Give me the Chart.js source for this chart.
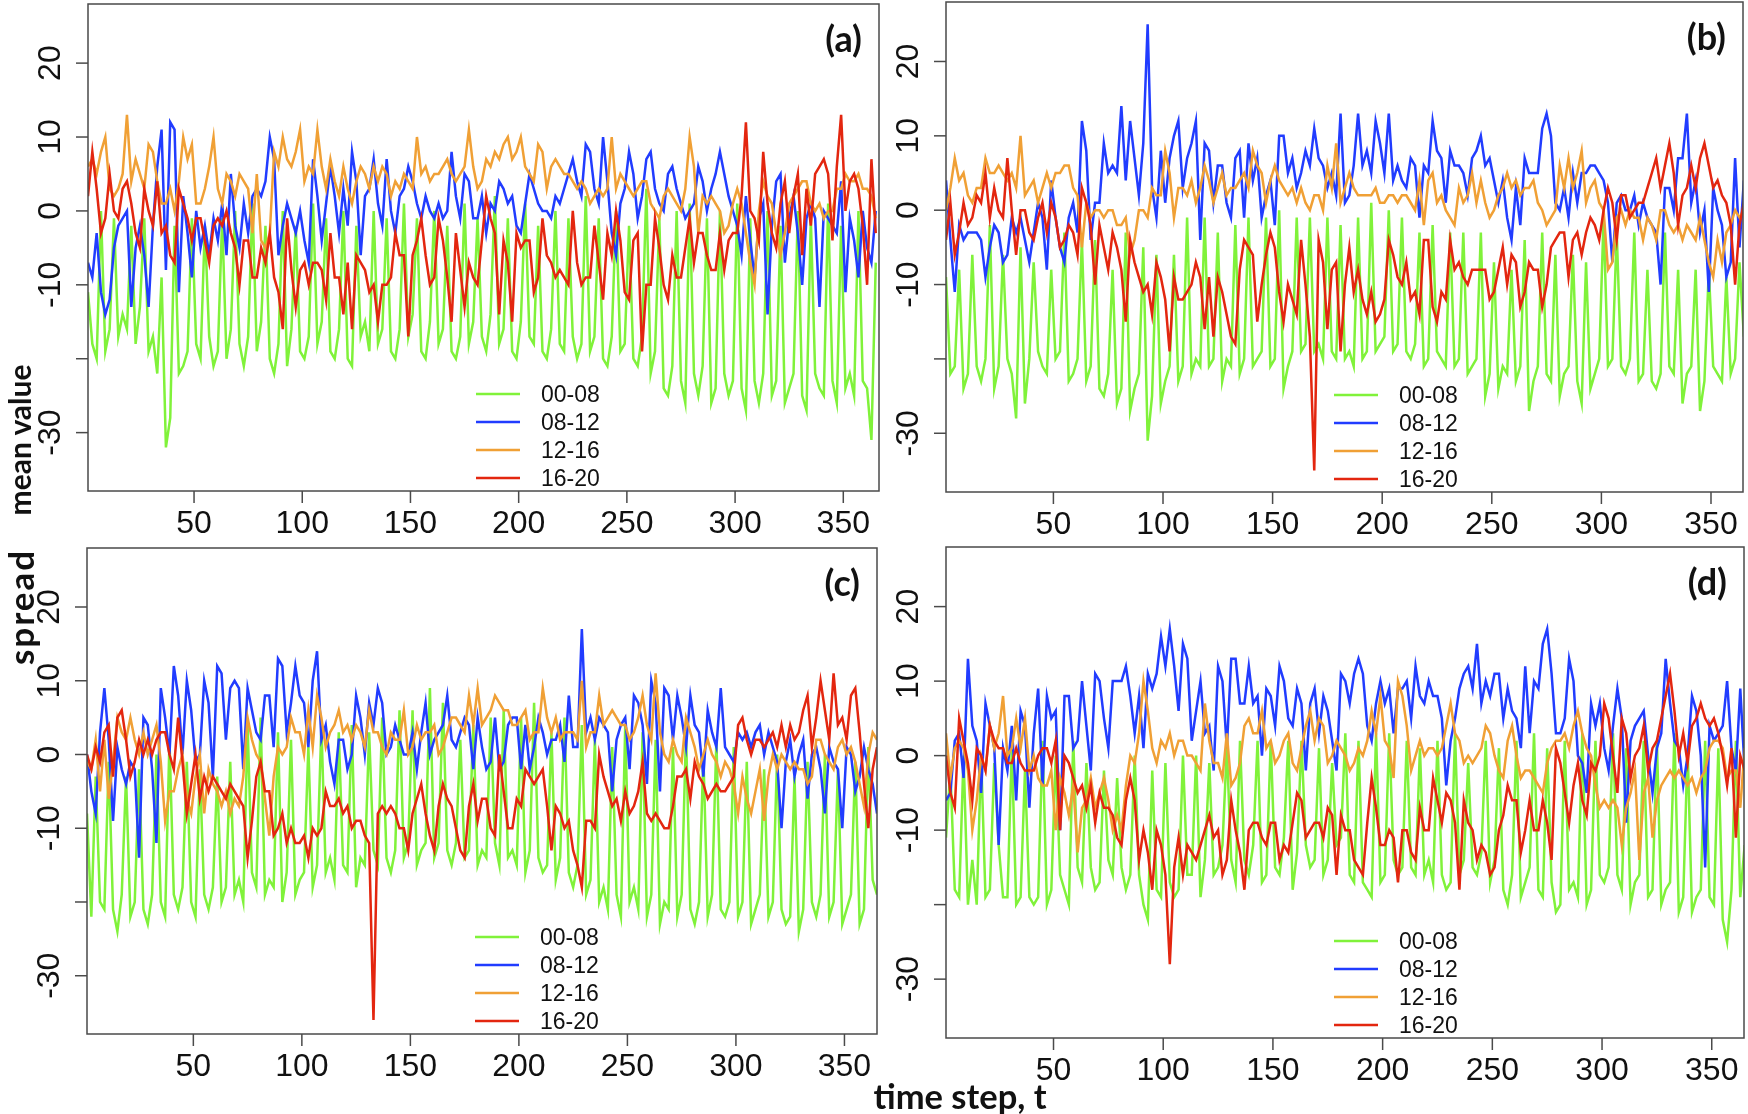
<!DOCTYPE html>
<html>
<head>
<meta charset="utf-8">
<script src="https://cdn.jsdelivr.net/npm/chart.js@4.4.0/dist/chart.umd.min.js"></script>
<style>
  html, body { margin: 0; padding: 0; background: #fff; }
  #wrap { position: relative; width: 1748px; height: 1114px; overflow: hidden; }
  canvas { position: absolute; }
  .ttl { position: absolute; font-family: Lato, "Open Sans", sans-serif; font-weight: 700; color: #111;
         white-space: nowrap; line-height: 1; }
</style>
</head>
<body>
<div id="wrap">
  <canvas id="pa" width="884" height="545" style="left:0;top:0"></canvas>
  <canvas id="pb" width="864" height="545" style="left:884px;top:0"></canvas>
  <canvas id="pc" width="884" height="569" style="left:0;top:545px"></canvas>
  <canvas id="pd" width="864" height="569" style="left:884px;top:545px"></canvas>
  <div class="ttl" style="left:960px;top:1096px;font-size:34.5px;transform:translate(-50%,-50%)">time step, t</div>
  <div class="ttl" style="left:19px;top:440px;font-size:30px;transform:translate(-50%,-50%) rotate(-90deg)">mean value</div>
  <div class="ttl" style="left:20px;top:607px;font-size:35px;letter-spacing:2px;transform:translate(-50%,-50%) rotate(-90deg)">spread</div>
</div>
<script>
// time steps sampled every second day
const steps = [];
for (let t = 1; t <= 365; t += 2) steps.push(t);

const seriesLabels = ['00-08', '08-12', '12-16', '16-20'];
const seriesColors = ['#80f23a', '#213cff', '#f0a035', '#e3260f'];
const xTicks = [50, 100, 150, 200, 250, 300, 350];
const yTicks = [20, 10, 0, -10, -20, -30];
const yTickLabels = ['20', '10', '0', '-10', '', '-30'];
const yMin = -37.9, yMax = 28.0;

// ---- panel (a)
const aGreen = [
  -11, -18, -20, 0, -19, -16, -1, -17, -14, -16,
  -2, -18, -13, -1, -19, -17, -22, -9, -32, -28,
  -2, -22, -21, -19, -1, -18, -20, -2, -17, -21,
  -19, -1, -20, -16, 0, -18, -21, -17, 1, -19,
  -15, -2, -20, -22, -18, 0, -21, -16, -2, -19,
  -20, -17, 1, -18, -15, -1, -19, -20, -16, 0,
  -20, -21, -2, -17, -15, -19, 0, -18, -16, -1,
  -19, -20, -16, 1, -17, -14, -1, -19, -20, -15,
  0, -18, -16, -2, -19, -20, -17, 1, -18, -15,
  -1, -17, -19, -14, 2, -18, -16, -1, -19, -20,
  -15, 1, -17, -18, -2, -19, -20, -16, 0, -18,
  -19, -1, -17, -20, -18, 2, -19, -17, -1, -20,
  -21, -17, 0, -19, -18, -2, -20, -21, -17, 3,
  -22, -19, -1, -24, -25, -21, 0, -23, -26, 1,
  -22, -25, -21, -1, -26, -24, 0, -22, -25, -23,
  1, -24, -27, -1, -23, -26, -22, 0, -25, -23,
  -2, -26, -24, -22, 0, -25, -27, -1, -22, -24,
  -25, 1, -23, -26, -2, -24, -22, -25, 0, -23,
  -24, -31, -7
];
const aBlue = [
  -7, -9, -3, -11, -14, -12, -5, -2, -1, 0,
  -13, -5, -2, -6, -13, -2, 6, 11, -8, 12,
  11, -11, 2, -3, -9, 0, -5, -2, -6, -1,
  -4, 1, -6, 5, -2, -5, 1, -3, 2, 3,
  2, 4, 10, 7, -6, -2, 1, -1, -3, 0,
  -4, -7, 7, 2, -4, 1, 6, 2, -3, 3,
  -2, 8, 4, -6, 2, 3, 7, 1, -2, 7,
  0, -3, 2, 3, 6, 4, 1, -1, 2, 0,
  -1, 1, -1, 0, 8, 2, -1, 5, 4, -1,
  -1, 2, -3, 1, 0, 4, 3, 1, 2, -2,
  -3, 1, 5, 3, 1, 0, 0, -1, 2, 1,
  3, 5, 7, 4, 2, 9, 8, 3, 1, 10,
  4, -3, -6, 1, 3, 8, 5, -1, 2, 7,
  8, 3, 1, 0, 5, 6, 3, 1, -1, 0,
  1, 6, 4, 0, 3, 5, 8, 5, 2, 0,
  -2, -6, 2, -4, -9, -1, 1, -14, -2, 4,
  5, -7, -1, 2, -3, -10, -1, 1, -1, -13,
  0, -1, -2, -3, 4, -11, -1, -4, -9, 0,
  -5, -7, 0
];
const aOrange = [
  6, 7, 5, 8, 10, 3, 2, 3, 5, 13,
  4, 7, 5, 3, 9, 8, 4, 1, 1, 3,
  0, 4, 10, 7, 9, 1, 1, 3, 6, 10,
  3, 1, 5, 4, 2, 5, 4, 3, -3, 5,
  -4, -5, -3, 8, 6, 10, 7, 6, 8, 11,
  4, 6, 5, 11, 6, 3, 7, 4, 2, 6,
  3, 1, 4, 6, 5, 3, 6, 4, 6, 5,
  2, 4, 3, 5, 4, 3, 10, 5, 6, 4,
  5, 5, 6, 7, 5, 4, 5, 6, 11, 6,
  3, 4, 7, 6, 8, 7, 9, 10, 7, 8,
  10, 6, 5, 4, 9, 8, 3, 6, 7, 6,
  5, 5, 4, 3, 4, 3, 1, 2, 3, 2,
  3, 10, 3, 5, 4, 3, 2, 3, 4, 4,
  1, 0, -1, 2, 3, 2, 1, 0, 3, 10,
  6, -3, 2, 1, 2, 1, 0, -3, -2, 1,
  3, 1, -3, -7, -10, 0, 4, 2, 1, -3,
  -6, -3, 1, 2, 3, 4, 4, 1, 0, 1,
  -1, 0, 0, 3, 3, 5, 4, 4, 5, 3,
  3, 2, -1
];
const aRed = [
  2, 8, 3, -3, -1, 5, 0, -1, 3, 4,
  1, -3, -5, 3, 0, -2, 4, -3, -2, -6,
  -7, 3, 1, -1, -4, -1, -1, -4, -7, -2,
  -1, -2, 0, -3, -5, -10, -4, -4, -9, -9,
  -5, -7, -3, -9, -11, -16, -1, -8, -13, -8,
  -7, -10, -7, -7, -8, -12, -3, -9, -9, -14,
  -7, -16, -6, -7, -8, -11, -10, -15, -10, -10,
  -9, -3, -6, -6, -17, -6, -4, -1, -6, -10,
  -9, -1, -4, -9, -15, -3, -8, -13, -7, -9,
  -10, -4, 2, -1, -3, -14, -4, -7, -15, -3,
  -5, -4, -4, -11, -9, -1, -6, -7, -9, -8,
  -9, -10, 0, -7, -10, -9, -9, -2, -7, -12,
  -3, -6, 0, -4, -11, -12, -4, -3, -19, -10,
  -10, -1, -5, -10, -12, -6, -9, -9, -5, -1,
  -7, -3, -3, -6, -8, -8, -3, -8, -4, -3,
  -3, 2, 12, 0, -1, -4, 8, 1, -3, -5,
  1, 4, -3, 2, 5, -6, 3, -2, 5, 6,
  7, 5, -4, 6, 13, 0, 4, 5, 3, -2,
  -10, 7, -3
];

// ---- panel (b)
const bGreen = [
  -9, -22, -21, -8, -24, -22, -6, -21, -23, -20,
  -2, -24, -21, -6, -20, -22, -28, -5, -26, -20,
  -7, -19, -21, -22, -8, -20, -19, -3, -23, -22,
  -20, -4, -23, -21, -4, -24, -25, -22, -8, -26,
  -24, -3, -27, -24, -22, -5, -31, -25, -6, -26,
  -23, -21, -6, -23, -21, -1, -22, -20, -21, -1,
  -21, -20, -3, -23, -20, -21, -2, -22, -20, -1,
  -21, -20, -19, -1, -21, -20, 0, -24, -21, -19,
  -1, -19, -18, -1, -19, -18, -20, -1, -19, -20,
  -2, -20, -19, -21, -1, -20, -19, 1, -19, -18,
  -17, 0, -19, -18, -1, -19, -20, -18, -3, -21,
  -20, -2, -19, -20, -21, -3, -21, -20, -3, -22,
  -21, -20, -3, -25, -22, -7, -24, -21, -22, -8,
  -23, -21, -4, -27, -23, -21, -3, -22, -23, -6,
  -25, -22, -21, -6, -23, -26, -7, -24, -22, -20,
  -1, -21, -20, -3, -21, -22, -20, -3, -23, -22,
  -8, -23, -24, -22, -3, -21, -22, -8, -26, -22,
  -21, -8, -27, -23, -8, -21, -22, -23, -9, -22,
  -20, -7, -17
];
const bBlue = [
  4, -4, -11, -2, -4, -3, -3, -3, -4, -9,
  -5, -2, -3, -7, -6, -1, -3, -1, -4, -7,
  -3, 1, -1, -8, 4, -1, -5, -7, -1, 1,
  -3, 12, 8, -4, 1, 1, 9, 5, 6, 5,
  14, 4, 12, 7, 2, 9, 25, 3, -1, 8,
  1, 7, 10, 12, 3, 7, 9, 12, -4, 9,
  8, 1, 6, 6, 1, -1, 7, 8, -1, 9,
  4, 7, -1, 2, 4, -2, 10, 10, 5, 7,
  3, 5, 8, 6, 11, 7, 6, 3, 5, 2,
  13, 1, 2, 6, 13, 6, 8, 5, 12, 9,
  5, 13, 4, 6, 4, 3, 7, 6, -1, 6,
  5, 12, 8, 7, 1, 8, 6, 6, 5, 2,
  7, 8, 10, 6, 7, 4, 1, 4, -1, -4,
  3, -2, 7, 5, 5, 5, 11, 13, 10, 1,
  0, 3, -1, 5, 1, 5, 5, 6, 6, 5,
  4, 1, -7, 1, 2, 0, 0, 2, -2, 1,
  -1, -2, -3, -10, 3, 3, 0, 7, 7, 13,
  1, 4, -3, 0, -11, 3, 0, -2, -9, -7,
  7, -5, 4
];
const bOrange = [
  0, 3, 7, 4, 5, 2, 1, 3, 3, 7,
  5, 5, 6, 5, 4, 5, 3, 10, 2, 3,
  4, 1, 3, 5, 3, 5, 5, 6, 6, 3,
  2, -5, 1, -1, 0, 0, -1, 0, 0, -2,
  -2, -1, -6, -4, 0, 0, -1, 3, 2, 2,
  8, 5, -1, 3, 3, 2, 4, 1, 3, 6,
  4, 1, 3, 5, 2, 3, 3, 4, 5, 3,
  8, 6, 5, 1, 4, 6, 4, 3, 2, 3,
  1, 3, 1, 0, 2, 2, 0, 6, 3, 9,
  1, 3, 5, 3, 2, 2, 2, 2, 3, 1,
  1, 2, 2, 1, 2, 2, 1, 0, 4, -2,
  4, 5, 1, 2, 0, -1, -2, 3, 1, 2,
  5, 1, 4, 1, -1, 0, 2, 3, 5, 3,
  4, 2, 3, 3, 4, 1, 0, -2, -1, 0,
  6, 3, 7, 3, 5, 8, 1, 3, 4, 1,
  0, -8, -7, -1, 0, -2, 0, -1, -1, -4,
  -1, -2, -4, 0, 0, -2, -3, -2, -4, -2,
  -3, -4, -1, -4, -7, -9, -4, -7, -3, -2,
  0, -1, 0
];
const bRed = [
  -4, 1, -6, -3, 1, -2, -1, 2, 1, 5,
  -1, 3, 0, -1, 7, 0, -6, 0, 0, -3,
  -4, -1, 1, -3, 1, -1, -5, -4, -2, -3,
  -6, 3, 1, -2, -10, -2, -5, -8, -3, -5,
  -8, -15, -4, -7, -9, -11, -10, -14, -7, -9,
  -12, -19, -9, -12, -12, -11, -10, -7, -9, -16,
  -9, -17, -9, -11, -14, -17, -18, -8, -4, -5,
  -6, -15, -10, -6, -3, -5, -11, -15, -10, -12,
  -14, -4, -10, -17, -35, -4, -7, -16, -8, -7,
  -19, -10, -5, -11, -8, -12, -14, -11, -15, -14,
  -12, -4, -6, -9, -10, -7, -12, -11, -14, -4,
  -4, -13, -15, -11, -12, -4, -8, -7, -9, -10,
  -8, -8, -8, -8, -12, -11, -8, -5, -10, -6,
  -7, -13, -11, -7, -8, -8, -13, -10, -5, -4,
  -3, -3, -9, -4, -3, -6, -3, -1, -2, -4,
  0, 3, 1, -4, 2, 2, -1, 0, 1, 1,
  3, 5, 7, 3, 6, 9, 5, -2, 2, 3,
  6, 3, 7, 9, 6, 3, 4, 2, 1, -2,
  -10, -2, 1
];

// ---- panel (c)
const cGreen = [
  -8, -22, -3, -20, -21, -1, -21, -24, -19, -3,
  -22, -20, -2, -21, -23, -19, 0, -20, -22, 2,
  -19, -21, -18, -1, -20, -22, -2, -19, -21, -18,
  -3, -20, -18, -1, -19, -17, -20, 4, -16, -18,
  5, -19, -17, -18, 3, -20, -16, 2, -19, -17,
  -16, 1, -18, -15, 4, -16, -14, -17, 3, -15,
  -16, 4, -18, -14, -15, 3, -13, -15, 5, -14,
  -16, -13, 6, -14, -12, 6, -15, -13, -12, 9,
  -14, -12, 7, -13, -15, -12, 2, -14, -13, 4,
  -15, -13, -14, 5, -12, -15, 6, -14, -13, -15,
  5, -16, -13, 7, -14, -16, -15, 3, -17, -14,
  5, -16, -18, -15, 4, -19, -17, 2, -20, -18,
  -21, 1, -19, -22, 4, -20, -18, -21, 3, -22,
  -19, 2, -23, -20, -21, 1, -22, -19, 3, -21,
  -23, -20, 0, -22, -19, 2, -21, -22, -20, 1,
  -22, -20, -1, -23, -21, -19, -2, -22, -20, 0,
  -21, -23, -22, -3, -24, -21, -1, -20, -22, -19,
  0, -22, -20, -2, -23, -21, -19, -1, -23, -21,
  1, -17, -19
];
const cBlue = [
  0, -5, -8, 3, 9, 2, -9, 1, -2, -4,
  -1, -2, -14, 5, 4, -2, -12, 9, 5, 0,
  12, 8, 0, 10, 6, -1, 0, 10, 7, -3,
  12, 11, 2, 9, 10, 9, -2, 9, 6, 3,
  2, 8, 8, 1, 13, 12, 3, 7, 12, 8,
  7, 1, 10, 14, 2, 4, -1, -4, 2, 2,
  -2, 0, 8, 5, 0, 7, 4, 9, 7, 0,
  1, 4, 2, 0, 0, 3, -2, 3, 7, 0,
  2, 3, 4, 8, 2, 1, 3, 5, 4, -2,
  5, 1, -2, -1, 5, -2, -1, 4, 5, 5,
  -2, 4, -2, 1, 5, 3, 0, 2, 2, 4,
  -1, 8, 1, 1, 17, 3, 5, 2, 5, 4,
  3, -5, 2, 4, 5, -2, 8, 7, 4, -4,
  10, 7, -5, 9, 8, 2, 8, 5, 1, 8,
  4, 3, -3, 6, 3, 1, 9, 1, 0, -1,
  3, 2, 3, 1, 3, 4, 0, 3, 1, -1,
  -10, -1, 2, -3, 0, 2, -6, 0, 1, -2,
  -8, 1, -1, -2, -10, 1, 0, -5, -3, 1,
  -2, -4, -8
];
const cOrange = [
  -1, -2, 2, -5, 2, -6, -1, 5, 3, 2,
  5, 2, 0, 3, 0, 2, 4, -1, -9, -5,
  -5, -2, 0, -6, -8, -3, 0, -8, -2, -4,
  -5, -7, -5, -8, -6, -7, -3, 5, 2, 0,
  -1, -6, -11, -3, 1, 0, 1, 5, 3, 3,
  0, 6, 1, 8, 5, 1, 3, 4, 6, 3,
  4, 2, 4, 3, 1, 6, 3, 3, 1, 0,
  3, 2, 2, 6, 0, 1, 4, 2, 3, 3,
  4, 0, 1, 3, 5, 5, 4, 3, 8, 4,
  9, 4, 5, 6, 8, 7, 6, 6, 4, 4,
  5, 6, 2, 3, 3, 9, 5, 3, 5, 2,
  3, 3, 3, 2, 10, 1, 3, 3, 8, 4,
  5, 6, 5, 4, 4, 2, 3, 5, 8, 4,
  2, 11, 3, 0, -1, 2, 0, -1, 5, 3,
  1, -2, 0, 2, 0, -1, -3, -1, -2, -4,
  -8, -3, -6, -8, -5, -2, -9, -3, 0, -2,
  0, -1, -2, -1, -2, -2, -4, -3, 2, 2,
  0, -1, -2, 1, 2, 0, 1, -1, -4, -7,
  0, 3, 2
];
const cRed = [
  0, -2, 1, -1, 3, 4, -3, 5, 6, 2,
  -3, -1, 2, 0, 2, 0, 2, 3, 3, 0,
  -2, 5, -1, -8, -4, 0, -6, -3, -5, -3,
  -4, -5, -6, -4, -5, -6, -7, -14, -9, -3,
  -1, -5, -5, -11, -10, -8, -12, -10, -12, -12,
  -11, -14, -10, -11, -10, -5, -7, -7, -6, -8,
  -7, -10, -9, -9, -11, -12, -36, -8, -7, -8,
  -7, -8, -10, -10, -13, -8, -6, -4, -8, -11,
  -13, -7, -4, -6, -7, -10, -13, -14, -7, -4,
  -9, -6, -6, -10, -11, 0, -5, -10, -10, -6,
  -7, -2, -3, -4, -3, -2, -7, -13, -7, -8,
  -10, -9, -13, -15, -18, -9, -9, -10, 0, -3,
  -5, -7, -6, -9, -5, -8, -7, -5, -1, -8,
  -9, -8, -9, -10, -10, -7, -3, -3, -2, -6,
  -1, -3, -4, -6, -5, -4, -5, -5, -4, -3,
  4, 5, 2, 0, 2, 2, 1, 2, 3, 1,
  4, 1, 4, 2, 3, 6, 8, 1, 5, 10,
  6, 2, 11, 4, 5, 2, 8, 9, 3, -4,
  -10, -2, 1
];

// ---- panel (d)
const dGreen = [
  -11, -2, -18, -19, 0, -20, -14, -20, 0, -19,
  -18, -1, -12, -19, -19, 1, -20, -19, -2, -19,
  -20, -19, 2, -20, -18, 0, -16, -18, -20, 2,
  -15, -17, -1, -15, -18, -17, -2, -14, -16, -3,
  -15, -18, -16, 0, -16, -20, -22, -2, -18, -19,
  -1, -17, -19, -18, 0, -16, -16, 0, -19, -14,
  -1, -16, -15, -12, 1, -14, -17, 2, -14, -16,
  -12, 2, -17, -16, 2, -15, -16, -11, 2, -18,
  -13, 2, -12, -15, -14, 1, -16, -14, -1, -12,
  -11, 3, -16, -17, 2, -17, -18, -19, 3, -17,
  -16, 3, -14, -16, -15, 2, -15, -16, 1, -16,
  -14, -17, 2, -16, -18, -17, 3, -16, -14, -1,
  -15, -16, -13, 2, -17, -14, 1, -18, -20, -16,
  2, -19, -17, -15, 3, -18, -19, 1, -17, -21,
  -20, 2, -18, -17, -19, 3, -20, -18, 2, -16,
  -17, -15, 3, -16, -18, 1, -20, -17, -16, 2,
  -19, -18, 2, -20, -18, -17, 3, -21, -19, 1,
  -21, -19, -18, 2, -19, -20, 1, -22, -25, -18,
  2, -19, -12
];
const dBlue = [
  -6, -5, 2, 3, -3, 13, 4, 2, -5, 7,
  4, 1, -12, 1, -2, 4, -6, 6, 4, -7,
  3, 9, -4, 8, 5, 6, -10, 8, 8, 1,
  2, 10, 4, -2, 11, 10, 5, 1, 10, 10,
  10, 12, 8, 3, 8, 1, 11, 9, 11, 16,
  12, 17, 12, 6, 15, 13, 2, 6, 10, 3,
  4, -2, 12, 10, 1, 13, 13, 7, 7, 12,
  7, 8, 0, 9, 8, 4, 12, 10, 5, 4,
  9, 7, -2, 7, 9, 3, 8, 6, 2, -2,
  11, 10, 7, 11, 13, 11, 4, 2, 7, 10,
  7, 9, 3, 9, 9, 10, 5, 12, 8, 7,
  10, 8, 8, 5, -4, 2, 5, 9, 11, 12,
  9, 15, 7, 10, 8, 11, 11, 5, 9, 6,
  5, 1, 12, 3, 10, 9, 15, 17, 11, 3,
  3, 5, 13, 10, 0, -1, -5, 7, 4, 7,
  1, -2, 4, 9, 5, -9, 2, 4, 5, 6,
  0, -5, 1, 3, 13, 7, 2, 1, -4, 0,
  8, 6, 0, -15, 4, 2, 3, 4, 10, 1,
  -2, 9, -2
];
const dOrange = [
  3, -3, 1, 2, 1, -2, -10, -6, 0, -2,
  4, 1, 3, 8, 0, 1, 5, 1, 5, -2,
  0, -3, -4, -4, -2, -10, -3, -5, -8, -4,
  -13, -7, -6, -3, -7, -5, -3, -6, -10, -8,
  -10, -4, 0, -1, 3, 10, 6, 1, -1, 2,
  1, 3, 0, 2, 2, 0, 0, -1, -2, 7,
  2, -1, -1, -3, 3, -4, -3, -1, 4, 5,
  3, 3, 6, 1, 2, -1, 0, 2, 3, -1,
  -2, 1, 4, 6, 2, 5, 4, -1, 0, 2,
  1, 0, -2, -1, 1, 0, 2, 6, 3, 8,
  2, 1, -3, 10, 8, 4, -2, 0, 2, 0,
  1, 1, 0, 1, 4, 7, 3, 2, -1, 0,
  -1, 0, 1, 4, 3, 0, -2, -3, 2, 4,
  0, -3, -2, -2, -3, -4, -5, -1, 1, 2,
  2, 3, 1, 4, 6, 3, 1, 0, -4, -7,
  -6, -7, -6, -7, -12, -7, -5, -2, -14, -5,
  -3, -11, -6, -4, -3, -2, -3, -2, -3, -4,
  -3, -5, -3, -2, 1, 2, 2, 1, -3, -2,
  -2, -7, 1
];
const dRed = [
  0, -5, -7, 5, 2, -1, -6, 1, 0, -2,
  4, 2, 1, 1, -1, -1, 1, -1, -2, -2,
  -2, 0, 1, 1, -1, 2, -10, 0, -1, -3,
  -5, -4, -7, -4, -9, -5, -7, -7, -8, -11,
  -12, -6, -3, -6, -14, -10, -13, -18, -10, -12,
  -16, -28, -15, -11, -16, -12, -13, -14, -12, -10,
  -8, -11, -10, -16, -14, -6, -10, -13, -18, -10,
  -9, -9, -11, -12, -9, -9, -14, -12, -13, -9,
  -5, -6, -11, -10, -9, -9, -11, -7, -8, -16,
  -8, -10, -10, -14, -15, -16, -9, -3, -7, -12,
  -12, -10, -11, -17, -10, -10, -13, -14, -7, -10,
  -10, -3, -6, -9, -5, -6, -9, -18, -6, -9,
  -10, -14, -12, -13, -16, -15, -10, -8, -4, -6,
  -6, -13, -10, -6, -10, -10, -6, -9, -14, 1,
  -1, -5, -9, -4, -1, -6, -8, -1, -2, 0,
  7, 5, 0, -5, 5, 3, -3, 0, 1, 4,
  -2, 1, 2, 5, 8, 11, 6, 0, 3, -1,
  4, 5, 7, 5, 4, 5, 3, 0, -4, 1,
  -11, 0, -2
];

// box, ticks, tick labels, legend and panel letter, in the R base-graphics look
const frame = {
  id: 'frame',
  afterDatasetsDraw(chart, args, opts) {
    const { ctx, chartArea: a, scales: { x, y } } = chart;
    ctx.save();
    ctx.strokeStyle = '#4a4a4a';
    ctx.lineWidth = 1.5;
    ctx.strokeRect(a.left, a.top, a.right - a.left, a.bottom - a.top);

    ctx.fillStyle = '#111';
    ctx.font = '32px "Liberation Sans", Arial, sans-serif';
    ctx.textAlign = 'center';
    ctx.textBaseline = 'alphabetic';
    xTicks.forEach(v => {
      const px = x.getPixelForValue(v);
      ctx.beginPath(); ctx.moveTo(px, a.bottom); ctx.lineTo(px, a.bottom + 12); ctx.stroke();
      ctx.fillText(String(v), px, a.bottom + 42);
    });
    yTicks.forEach((v, i) => {
      const py = y.getPixelForValue(v);
      ctx.beginPath(); ctx.moveTo(a.left - 12, py); ctx.lineTo(a.left, py); ctx.stroke();
      if (!yTickLabels[i]) return;
      ctx.save();
      ctx.translate(a.left - 40, py);
      ctx.rotate(-Math.PI / 2);
      ctx.fillText(yTickLabels[i], 0, 11.5);
      ctx.restore();
    });

    // legend, bottom middle of the plot
    ctx.font = '23px "Liberation Sans", Arial, sans-serif';
    ctx.textAlign = 'left';
    const ds = chart.data.datasets;
    ds.forEach((d, i) => {
      const ry = a.bottom - 13 - (ds.length - 1 - i) * 28;
      const lx = a.left + 388;
      ctx.strokeStyle = d.borderColor;
      ctx.lineWidth = 2.5;
      ctx.beginPath(); ctx.moveTo(lx, ry); ctx.lineTo(lx + 44, ry); ctx.stroke();
      ctx.fillStyle = '#111';
      ctx.fillText(d.label, lx + 65, ry + 8);
    });

    ctx.font = 'bold 36px Lato, "Open Sans", sans-serif';
    ctx.textAlign = 'right';
    ctx.textBaseline = 'middle';
    ctx.fillText(opts.letter, a.right - 17, a.top + 36);
    ctx.restore();
  }
};

function makePanel(id, letter, series, xMax, pad) {
  return new Chart(document.getElementById(id), {
    type: 'line',
    data: {
      datasets: series.map((vals, i) => ({
        label: seriesLabels[i],
        data: vals.map((v, k) => ({ x: steps[k], y: v })),
        borderColor: seriesColors[i],
        borderWidth: 2.5,
        pointRadius: 0,
        tension: 0,
        order: series.length - i
      }))
    },
    options: {
      responsive: false,
      animation: false,
      layout: { padding: pad },
      scales: {
        x: { type: 'linear', min: 1, max: xMax, display: false },
        y: { min: yMin, max: yMax, display: false }
      },
      plugins: { legend: { display: false }, tooltip: { enabled: false }, frame: { letter } }
    },
    plugins: [frame]
  });
}

makePanel('pa', '(a)', [aGreen, aBlue, aOrange, aRed], 366.5, { left: 88, top: 4, right: 5, bottom: 54 });
makePanel('pb', '(b)', [bGreen, bBlue, bOrange, bRed], 364.6, { left: 62, top: 2, right: 5, bottom: 53 });
makePanel('pc', '(c)', [cGreen, cBlue, cOrange, cRed], 365, { left: 87, top: 3, right: 7, bottom: 80 });
makePanel('pd', '(d)', [dGreen, dBlue, dOrange, dRed], 364.7, { left: 62, top: 2, right: 4, bottom: 76 });
</script>
</body>
</html>
